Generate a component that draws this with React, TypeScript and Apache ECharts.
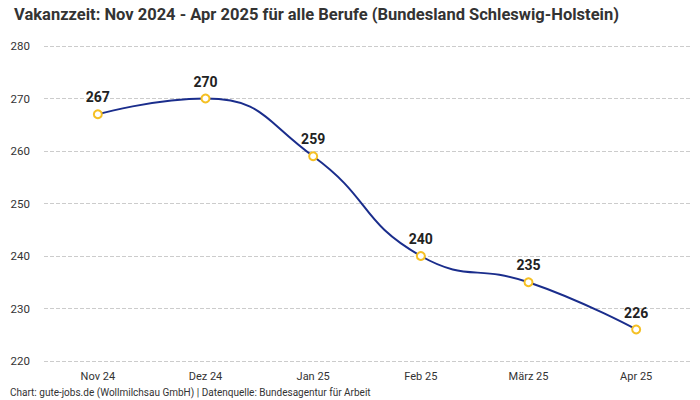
import React, { useEffect, useRef } from "react";
import * as echarts from "echarts";

const categories = ["Nov 24", "Dez 24", "Jan 25", "Feb 25", "März 25", "Apr 25"];
const values = [267, 270, 259, 240, 235, 226];
const titleText = "Vakanzzeit: Nov 2024 - Apr 2025 für alle Berufe (Bundesland Schleswig-Holstein)";
const footerText = "Chart: gute-jobs.de (Wollmilchsau GmbH) | Datenquelle: Bundesagentur für Arbeit";

const FONT = "Roboto, 'Noto Sans', sans-serif";

export default function App() {
  const ref = useRef<HTMLDivElement>(null);
  useEffect(() => {
    if (!ref.current) return;
    const chart = echarts.init(ref.current, undefined, { renderer: "svg" });
    chart.setOption({
      animation: false,
      backgroundColor: "#ffffff",
      textStyle: { fontFamily: FONT },
      title: {
        text: titleText,
        left: 9,
        top: 1,
        textStyle: { fontSize: 16.5, fontWeight: "bold", color: "#333333", fontFamily: FONT },
      },
      graphic: [
        {
          type: "text",
          left: 10,
          top: 387,
          style: { text: footerText, fontSize: 10, fill: "#333333", fontFamily: FONT },
        },
      ],
      grid: { left: 44, right: 10, top: 46, bottom: 39 },
      xAxis: {
        type: "category",
        data: categories,
        boundaryGap: true,
        axisLine: { show: false },
        axisTick: { show: false },
        axisLabel: { color: "#333333", fontSize: 11, margin: 10, fontFamily: FONT },
      },
      yAxis: {
        type: "value",
        min: 220,
        max: 280,
        interval: 10,
        axisLine: { show: false },
        axisTick: { show: false },
        axisLabel: { color: "#333333", fontSize: 11.5, margin: 14, fontFamily: FONT },
        splitLine: { lineStyle: { type: "dashed", color: "#cccccc" } },
      },
      series: [
        {
          type: "line",
          data: values,
          smooth: true,
          symbol: "circle",
          symbolSize: 8,
          lineStyle: { color: "#1a2d8c", width: 2 },
          itemStyle: { color: "#ffffff", borderColor: "#f5c024", borderWidth: 2 },
          label: {
            show: true,
            position: "top",
            distance: 5,
            color: "#222222",
            fontSize: 14,
            fontWeight: "bold",
            fontFamily: FONT,
          },
        },
      ],
    });
    return () => chart.dispose();
  }, []);
  return (
    <div
      ref={ref}
      style={{ position: "fixed", left: 0, top: 0, width: 700, height: 400 }}
    />
  );
}
